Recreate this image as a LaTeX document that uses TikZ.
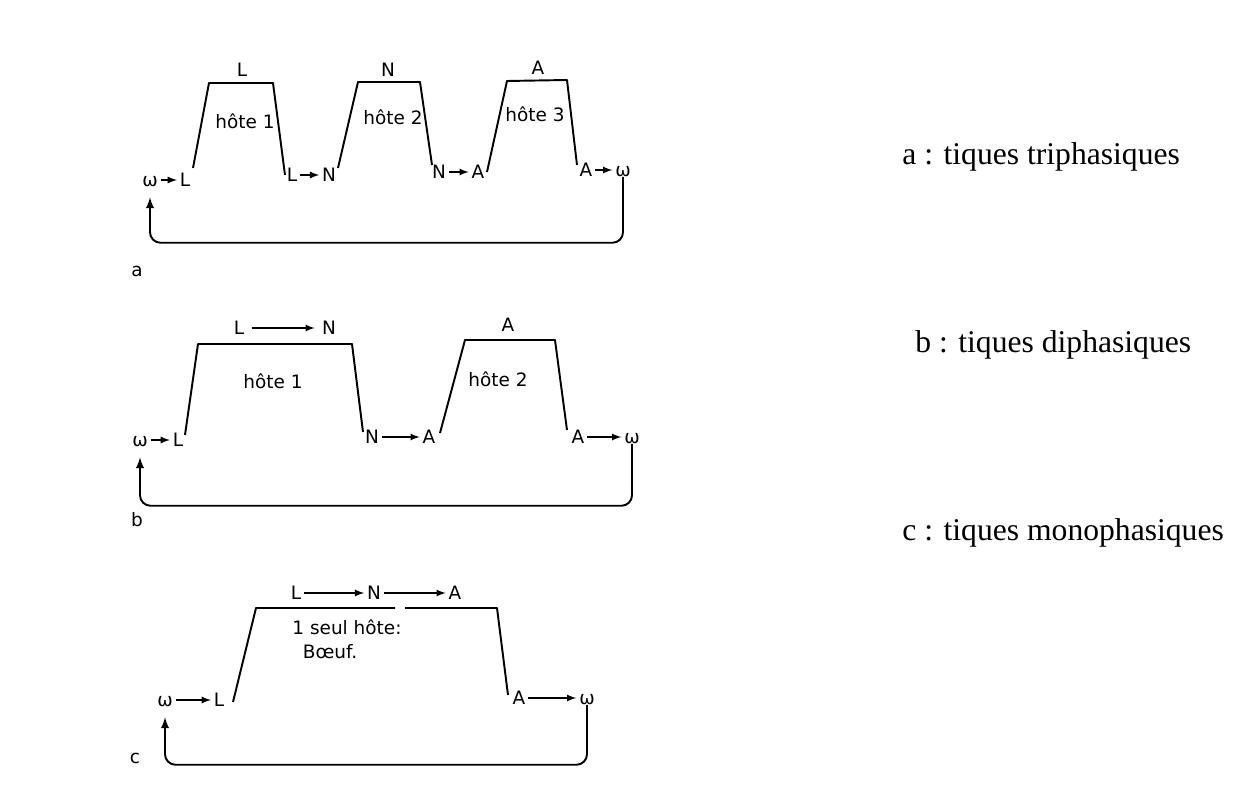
\documentclass[tikz,border=0pt]{standalone}
\usepackage{fontspec}
\setsansfont{DejaVu Sans}
\newfontfamily\legendfont{Liberation Serif}
\usetikzlibrary{arrows}
\tikzstyle{letter}=[inner sep=0pt,text height=7.3pt,text depth=0pt,font=\sffamily\fontsize{10.5}{12}\selectfont]
\tikzstyle{legend}=[anchor=west,inner sep=0pt,font=\legendfont\fontsize{18}{21}\selectfont]
\tikzstyle{trans}=[draw,line width=0.8pt,-latex,shorten >=1.5pt,shorten <=1.5pt]
\tikzstyle{host}=[draw,line width=1.1pt,line join=round]
\tikzstyle{cycle}=[draw,line width=1.1pt,-latex,rounded corners=6pt,shorten >=6pt]

\begin{document}
\begin{tikzpicture}[x=0.02cm,y=-0.02cm]
\useasboundingbox (0,0) rectangle (1241,807);

% a : three hosts
    \foreach \pos/ \name/ \txt in {{(150,180)/aw1/ω},{(185,180)/aL1/L},{(292,175)/aL2/L},{(329,175)/aN1/N},
        {(439,172)/aN2/N},{(478,172)/aA1/A},{(586,170)/aA2/A},{(623,170)/aw2/ω},
        {(242,70)/aLtop/L},{(388,70)/aNtop/N},{(538,68)/aAtop/A},
        {(245,122)/ahost1/hôte 1},{(393,118)/ahost2/hôte 2},{(535,115)/ahost3/hôte 3},{(137,270)/apanel/a}}
        \node[letter] (\name) at \pos {\txt};

    \foreach \source/ \dest in {aw1/aL1, aL2/aN1, aN2/aA1, aA2/aw2}
        \path[trans] (\source) -- (\dest);

    \draw[host] (193,168) -- (209,83) -- (273,83) -- (285,175);
    \draw[host] (338,168) -- (358,82) -- (420,82) -- (432,165);
    \draw[host] (487,172) -- (507,81) -- (567,80) -- (577,165);
    \path[cycle] (aw2.south) -- ++(0,66) -| (aw1.south);

% b : two hosts
    \foreach \pos/ \name/ \txt in {{(140,440)/bw1/ω},{(178,440)/bL1/L},{(372,437)/bN1/N},{(429,437)/bA1/A},
        {(578,437)/bA2/A},{(632,437)/bw2/ω},
        {(239,328)/bLtop/L},{(329,328)/bNtop/N},{(508,325)/bAtop/A},
        {(273,382)/bhost1/hôte 1},{(498,380)/bhost2/hôte 2},{(137,520)/bpanel/b}}
        \node[letter] (\name) at \pos {\txt};

    \foreach \source/ \dest in {bw1/bL1, bN1/bA1, bA2/bw2}
        \path[trans] (\source) -- (\dest);
    \path[trans,shorten >=4pt,shorten <=4pt] (bLtop) -- (bNtop);

    \draw[host] (185,435) -- (198,344) -- (352,344) -- (363,432);
    \draw[host] (440,433) -- (465,340) -- (555,340) -- (567,430);
    \path[cycle] (bw2.south) -- ++(0,62) -| (bw1.south);

% c : one host
    \foreach \pos/ \name/ \txt in {{(165,700)/cw1/ω},{(219,700)/cL1/L},{(519,698)/cA1/A},{(587,698)/cw2/ω},
        {(296,593)/cLtop/L},{(374,593)/cNtop/N},{(455,593)/cAtop/A},
        {(347,628)/chost/1 seul hôte:},{(330,652)/cox/Bœuf.},{(135,757)/cpanel/c}}
        \node[letter] (\name) at \pos {\txt};

    \foreach \source/ \dest in {cw1/cL1, cA1/cw2, cLtop/cNtop, cNtop/cAtop}
        \path[trans] (\source) -- (\dest);

    \draw[host] (233,702) -- (256,608) -- (395,608);
    \draw[host] (405,608) -- (497,608) -- (508,695);
    \path[cycle] (cw2.south) -- ++(0,60) -| (cw1.south);

% legend
    \node[legend] (lega) at (902,157) {a : tiques triphasiques};
    \node[legend] (legb) at (915,345) {b : tiques diphasiques};
    \node[legend] (legc) at (902,533) {c : tiques monophasiques};

\end{tikzpicture}
\end{document}
